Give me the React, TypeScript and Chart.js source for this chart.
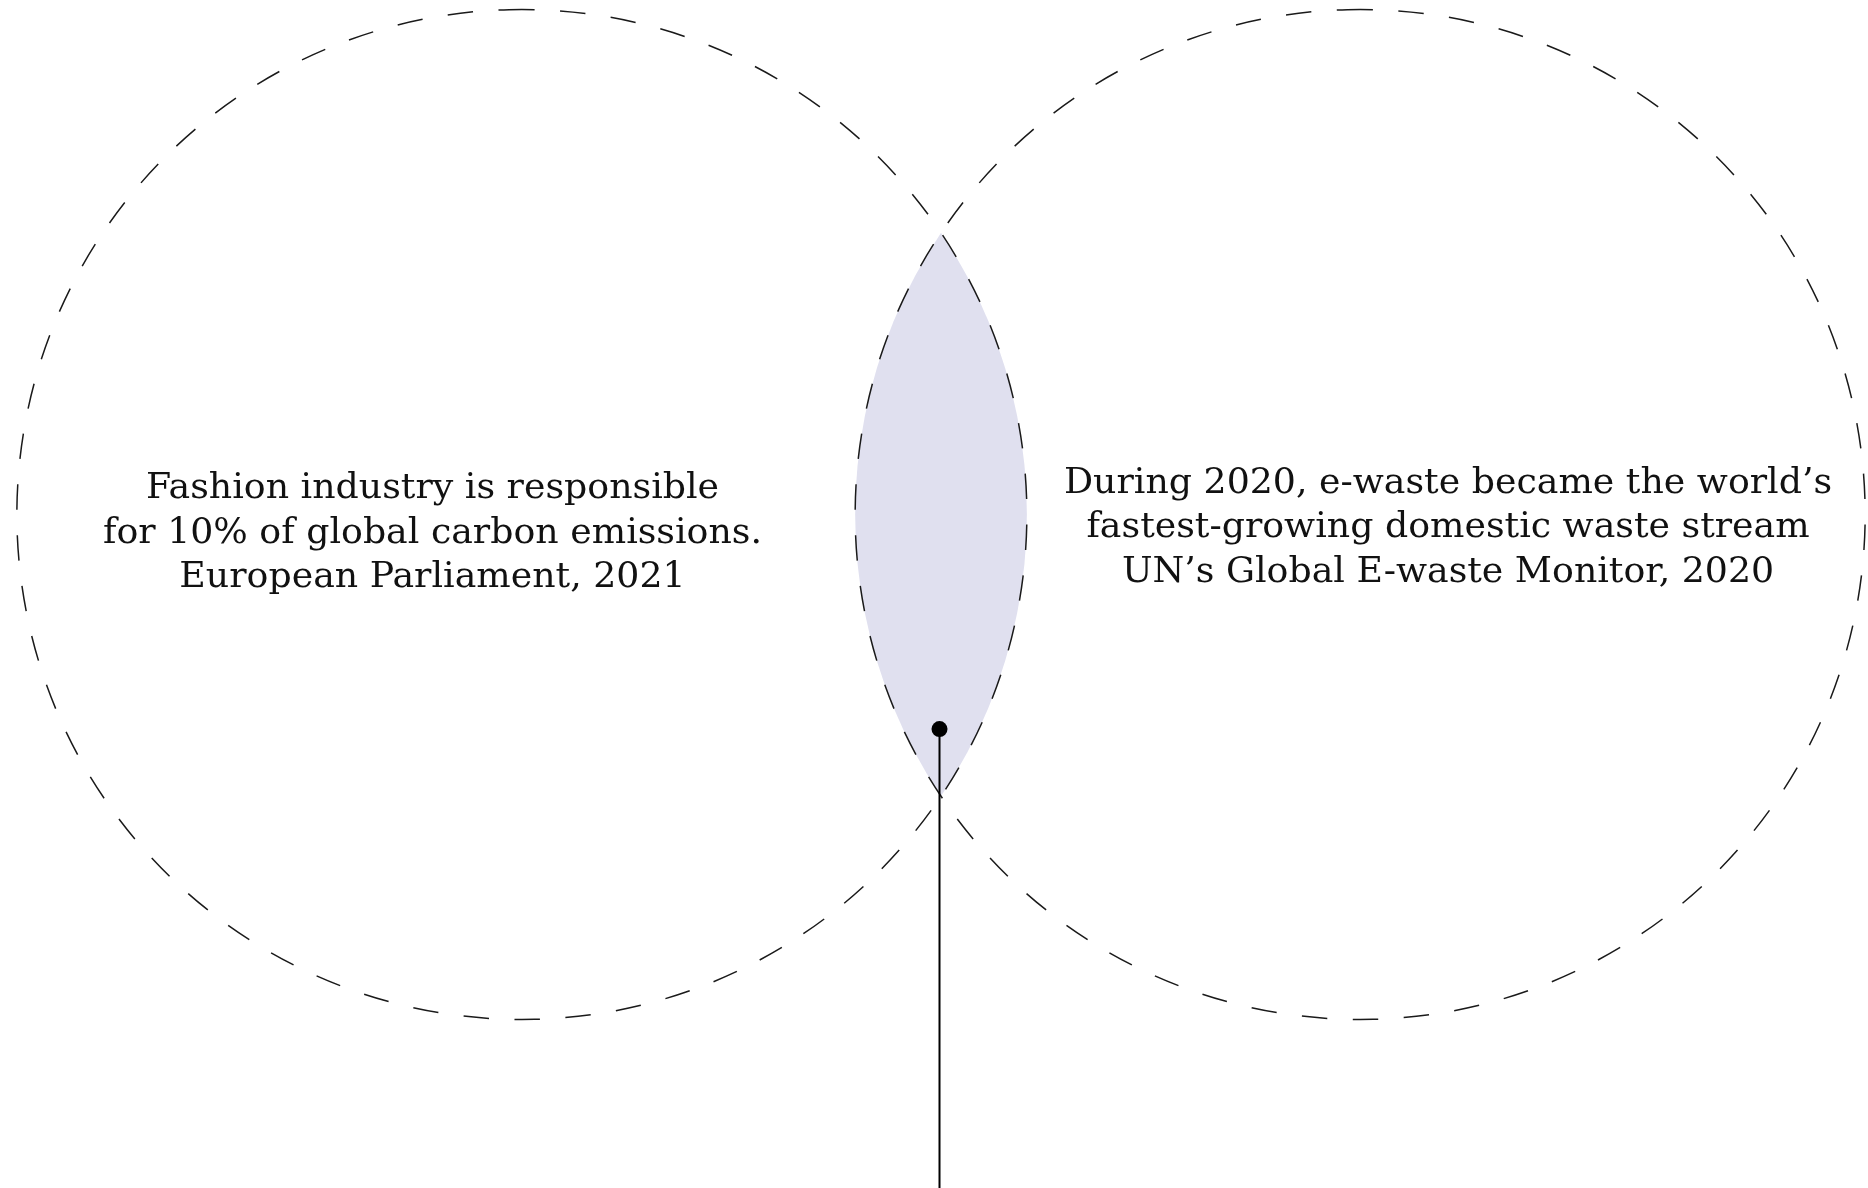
import React, { useEffect, useRef } from "react";
import { Chart, registerables } from "chart.js";

Chart.register(...registerables);

// ---- data (in circle-radius units) ----
const setNames = ["Fashion", "E-waste"];
const circleCenterX = [-0.83, 0.83];
const circleCenterY = [0, 0];
const circleRadius = [1, 1];

const leftLabelLines = [
  "Fashion industry is responsible",
  "for 10% of global carbon emissions.",
  "European Parliament, 2021",
];
const rightLabelLines = [
  "During 2020, e-waste became the world\u2019s",
  "fastest-growing domestic waste stream",
  "UN\u2019s Global E-waste Monitor, 2020",
];
const labelCenterX = [-1.007, 1.004];
const labelMiddleBaselineY = [-0.056, -0.045];

const pointerX = [-0.003, -0.003];
const pointerY = [-0.425, -1.34];

const xRange = [-1.8634, 1.8356];
const yRange = [-1.3337, 1.0188];

const W = 1868;
const H = 1188;

const vennPlugin = {
  id: "vennCircles",
  beforeDatasetsDraw(chart: any) {
    const { ctx, scales } = chart;
    const xs = scales.x;
    const ys = scales.y;
    const px = (v: number) => xs.getPixelForValue(v);
    const py = (v: number) => ys.getPixelForValue(v);
    const circles = setNames.map((_, i) => ({
      cx: px(circleCenterX[i]),
      cy: py(circleCenterY[i]),
      r: px(circleCenterX[i] + circleRadius[i]) - px(circleCenterX[i]),
    }));

    // lens (intersection) fill
    ctx.save();
    ctx.beginPath();
    ctx.arc(circles[0].cx, circles[0].cy, circles[0].r, 0, Math.PI * 2);
    ctx.clip();
    ctx.beginPath();
    ctx.arc(circles[1].cx, circles[1].cy, circles[1].r, 0, Math.PI * 2);
    ctx.fillStyle = "#e0e0ef";
    ctx.fill();
    ctx.restore();

    // dashed outlines
    ctx.save();
    ctx.strokeStyle = "#1a1a1a";
    ctx.lineWidth = 1.5;
    ctx.setLineDash([25.5, 25.5]);
    circles.forEach((c) => {
      const start = -Math.PI / 2 - 12.75 / c.r;
      ctx.beginPath();
      ctx.arc(c.cx, c.cy, c.r, start, start + Math.PI * 2);
      ctx.stroke();
    });
    ctx.restore();

    // labels
    ctx.save();
    ctx.fillStyle = "#111";
    ctx.font = '36.3px "DejaVu Serif", serif';
    ctx.textAlign = "center";
    ctx.textBaseline = "alphabetic";
    const lineGap = 44.5;
    [leftLabelLines, rightLabelLines].forEach((lines, i) => {
      const x = px(labelCenterX[i]);
      const midY = py(labelMiddleBaselineY[i]);
      lines.forEach((t, j) => {
        ctx.fillText(t, x, midY + (j - 1) * lineGap);
      });
    });
    ctx.restore();
  },
};

export default function App() {
  const ref = useRef<HTMLCanvasElement | null>(null);
  useEffect(() => {
    if (!ref.current) return;
    const chart = new Chart(ref.current, {
      type: "scatter",
      data: {
        datasets: [
          {
            label: "pointer",
            data: pointerX.map((x, i) => ({ x, y: pointerY[i] })),
            showLine: true,
            borderColor: "#000",
            borderWidth: 2,
            pointRadius: [8, 0],
            pointBackgroundColor: "#000",
            pointBorderWidth: 0,
            pointHoverRadius: 0,
            clip: false,
          },
        ],
      },
      options: {
        animation: false,
        responsive: false,
        devicePixelRatio: 1,
        layout: { padding: 0, autoPadding: false },
        events: [],
        scales: {
          x: { type: "linear", min: xRange[0], max: xRange[1], display: false },
          y: { type: "linear", min: yRange[0], max: yRange[1], display: false },
        },
        plugins: { legend: { display: false }, tooltip: { enabled: false } },
      },
      plugins: [vennPlugin],
    });
    return () => chart.destroy();
  }, []);
  return (
    <div style={{ position: "fixed", left: 0, top: 0, width: W, height: H, background: "#fff" }}>
      <canvas ref={ref} width={W} height={H} style={{ display: "block" }} />
    </div>
  );
}
